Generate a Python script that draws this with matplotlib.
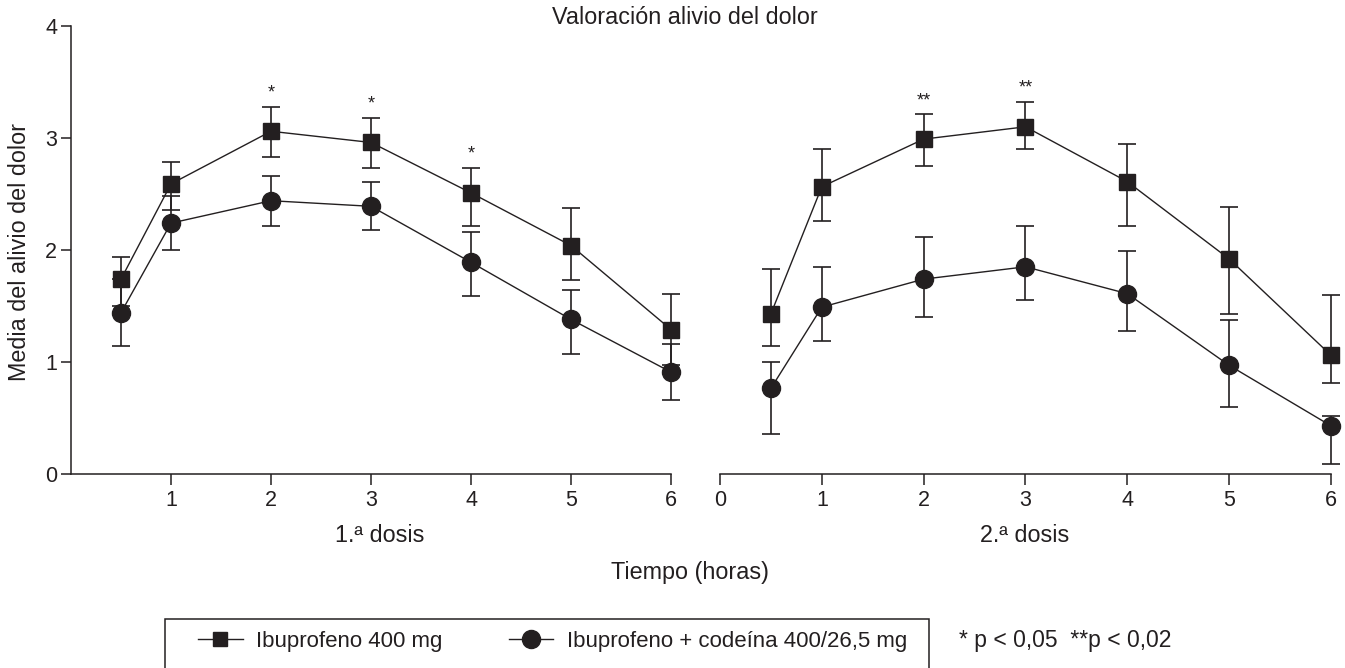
import numpy as np
import matplotlib
matplotlib.use("Agg")
from matplotlib import pyplot as plt
from matplotlib.lines import Line2D
from matplotlib.patches import Rectangle

## data (mean, top and bottom of the error bar)
hours = np.array([0.5, 1, 2, 3, 4, 5, 6])

ibu_d1 = np.array([1.74, 2.59, 3.06, 2.96, 2.51, 2.04, 1.29])
ibu_d1_hi = np.array([1.94, 2.79, 3.28, 3.18, 2.73, 2.375, 1.61])
ibu_d1_lo = np.array([1.50, 2.36, 2.83, 2.73, 2.21, 1.73, 0.97])

cod_d1 = np.array([1.44, 2.24, 2.44, 2.39, 1.89, 1.38, 0.91])
cod_d1_hi = np.array([1.74, 2.48, 2.66, 2.61, 2.16, 1.64, 1.16])
cod_d1_lo = np.array([1.14, 2.00, 2.21, 2.18, 1.59, 1.07, 0.66])

ibu_d2 = np.array([1.43, 2.565, 2.99, 3.10, 2.61, 1.92, 1.06])
ibu_d2_hi = np.array([1.83, 2.90, 3.21, 3.32, 2.95, 2.38, 1.60])
ibu_d2_lo = np.array([1.14, 2.26, 2.75, 2.90, 2.21, 1.43, 0.81])

cod_d2 = np.array([0.765, 1.49, 1.74, 1.85, 1.61, 0.97, 0.43])
cod_d2_hi = np.array([1.00, 1.85, 2.12, 2.21, 1.99, 1.375, 0.52])
cod_d2_lo = np.array([0.36, 1.19, 1.40, 1.55, 1.28, 0.60, 0.09])

sig_d1 = ["", "", "*", "*", "*", "", ""]
sig_d2 = ["", "", "**", "**", "", "", ""]

labels = ["Ibuprofeno 400 mg", "Ibuprofeno + codeína 400/26,5 mg"]
footnote = "* p < 0,05  **p < 0,02"

## style
ink = "#231f20"
plt.rcParams.update({"font.family": ["Liberation Sans", "DejaVu Sans"], "font.size": 16.8,
                     "axes.linewidth": 1.1, "text.color": ink,
                     "xtick.color": ink, "ytick.color": ink})

W, H = 1345, 668
fig = plt.figure(figsize=(W / 100, H / 100), dpi=100)
ax1 = fig.add_axes([71 / W, 194 / H, 600 / W, 448 / H])
ax2 = fig.add_axes([720 / W, 194 / H, 611 / W, 448 / H], sharey=ax1)


def draw(ax, series, sig):
    # error bars first so that the markers sit on top of them
    for mean, hi, lo, marker, ms in series:
        cont = ax.errorbar(hours, mean, yerr=[mean - lo, hi - mean], fmt="none",
                           ecolor=ink, elinewidth=1.2, capsize=6.5, capthick=1.2, zorder=2)
        for a in [*cont[1], *cont[2]]:
            a.set_clip_on(False)
    for mean, hi, lo, marker, ms in series:
        ax.plot(hours, mean, color=ink, lw=1.0, marker=marker, ms=ms,
                mfc=ink, mec=ink, zorder=3, clip_on=False)
    top = series[0][1]
    for x, y, s in zip(hours, top, sig):
        if s:
            ax.annotate(s, (x, y), xytext=(0, 10), textcoords="offset points",
                        ha="center", va="center", fontsize=13)


draw(ax1, [(ibu_d1, ibu_d1_hi, ibu_d1_lo, "s", 12), (cod_d1, cod_d1_hi, cod_d1_lo, "o", 13)], sig_d1)
draw(ax2, [(ibu_d2, ibu_d2_hi, ibu_d2_lo, "s", 12), (cod_d2, cod_d2_hi, cod_d2_lo, "o", 13)], sig_d2)

ax1.set(xlim=(0, 6), ylim=(0, 4), xticks=range(1, 7), yticks=range(0, 5))
ax2.set(xlim=(0, 6), xticks=range(0, 7))

for ax in [ax1, ax2]:
    ax.spines[["top", "right"]].set_visible(False)
    ax.spines[:].set_color(ink)
    ax.tick_params(axis="x", length=8, width=1.1, pad=3.5, labelsize=15.5)
    ax.tick_params(axis="y", length=7.5, width=1.1, pad=2.5, labelsize=15.5)
ax2.spines["left"].set_visible(False)
ax2.tick_params(axis="y", left=False, labelleft=False)

## texts
fig.text(685 / W, 1 - 18 / H, "Valoración alivio del dolor", ha="center", va="center")
fig.text(20 / W, 1 - 252 / H, "Media del alivio del dolor", rotation=90, ha="center", va="center")
fig.text(380 / W, 1 - 535 / H, "1.ª dosis", ha="center", va="center")
fig.text(1025 / W, 1 - 535 / H, "2.ª dosis", ha="center", va="center")
fig.text(690 / W, 1 - 573 / H, "Tiempo (horas)", ha="center", va="center")

## legend with a box running off the bottom edge
handles = [Line2D([], [], color=ink, lw=1.0, marker="s", ms=10, mfc=ink, mec=ink),
           Line2D([], [], color=ink, lw=1.0, marker="o", ms=13, mfc=ink, mec=ink)]
fig.legend(handles, labels, loc="center left", bbox_to_anchor=(187 / W, 1 - 641 / H),
           ncol=2, frameon=False, borderpad=0, handlelength=2.0, handletextpad=0.6,
           columnspacing=3.0, fontsize=16)
fig.add_artist(Rectangle((165 / W, -0.02), (929 - 165) / W, (668 - 619) / H + 0.02,
                         transform=fig.transFigure, fill=False, ec=ink, lw=1.1))
fig.text(959 / W, 1 - 641 / H, footnote, ha="left", va="center", fontsize=16.5)

fig.savefig("out.png", dpi=100)
